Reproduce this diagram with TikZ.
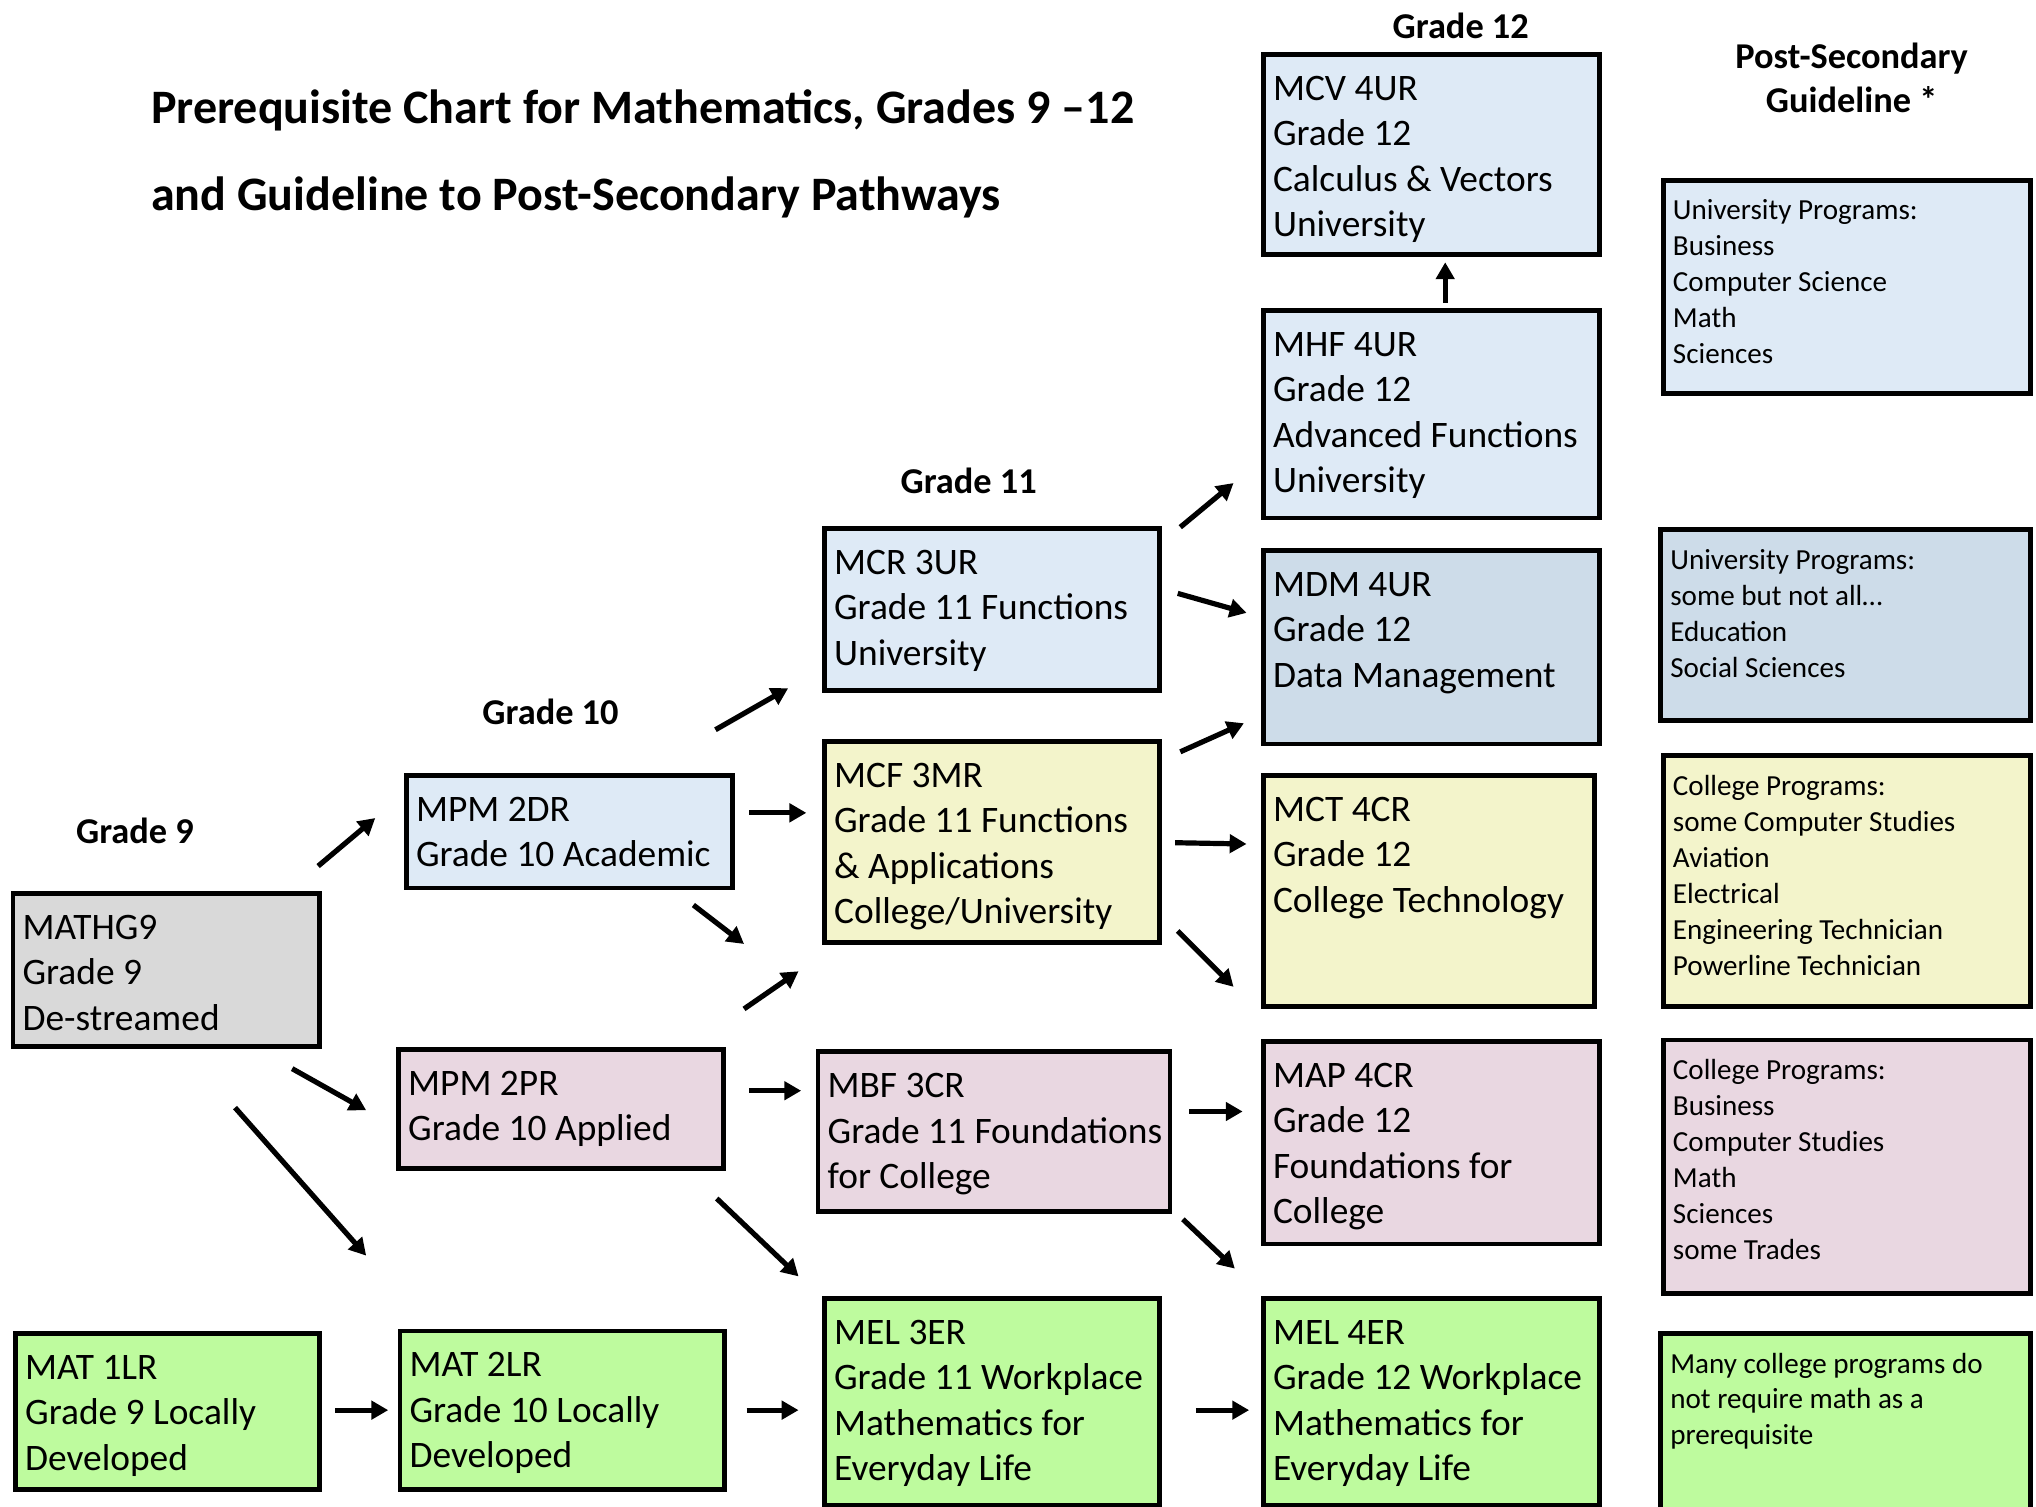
\documentclass[tikz,border=0pt]{standalone}
\usepackage{fontspec}
\setmainfont{Carlito}
\usetikzlibrary{arrows.meta,fit,calc}
\definecolor{blueL}{HTML}{DEEAF6}
\definecolor{blueD}{HTML}{CDDCE9}
\definecolor{yelL}{HTML}{F3F4CB}
\definecolor{pinkL}{HTML}{E9D7E1}
\definecolor{greenL}{HTML}{BEFB9E}
\definecolor{grayL}{HTML}{D9D9D9}
\newcommand\strA{\rule{0pt}{12pt}}
\newcommand\strB{\rule{0pt}{10pt}}
\tikzset{
 cbox/.style={draw=black, line width=1.8pt, inner sep=0pt, outer sep=0pt},
 ctext/.style={anchor=north west, inner sep=0pt, align=left, font=\fontsize{14.4}{17.5}\selectfont},
 ptext/.style={anchor=north west, inner sep=0pt, align=left, font=\fontsize{11.2}{13.85}\selectfont},
 glabel/.style={font=\bfseries\fontsize{14}{17}\selectfont, inner sep=0pt, align=center},
 tlabel/.style={font=\bfseries\fontsize{18.5}{21}\selectfont, inner sep=0pt, anchor=west},
 arr/.style={line width=2pt, -{Triangle[length=6.5pt,width=7pt]}},
}
\begin{document}
\begin{tikzpicture}[x=0.5pt,y=-0.5pt]
\useasboundingbox[fill=white] (0,0) rectangle (1568,1160);

% titles
\node[tlabel] (title1) at (116,85) {Prerequisite Chart for Mathematics, Grades 9 –12};
\node[tlabel] (title2) at (116,152) {and Guideline to Post-Secondary Pathways};
\node[glabel] (g12) at (1125,20) {Grade 12};
\node[glabel] (g11) at (746,370) {Grade 11};
\node[glabel] (g10) at (424,548) {Grade 10};
\node[glabel] (g9) at (104,640) {Grade 9};
\node[glabel] (psg) at (1426,60) {Post-Secondary\\Guideline *};

% boxes
\node[cbox, fill=blueL, fit={(973,42) (1232,196)}] (mcv) {};
\node[cbox, fill=blueL, fit={(973,239) (1232,399)}] (mhf) {};
\node[cbox, fill=blueD, fit={(973,424) (1232,573)}] (mdm) {};
\node[cbox, fill=yelL, fit={(973,597) (1228,775)}] (mct) {};
\node[cbox, fill=pinkL, fit={(973,802) (1232,958)}] (map) {};
\node[cbox, fill=greenL, fit={(973,1000) (1232,1159)}] (melf) {};
\node[cbox, fill=blueL, fit={(635,407) (893,532)}] (mcr) {};
\node[cbox, fill=yelL, fit={(635,571) (893,726)}] (mcf) {};
\node[cbox, fill=pinkL, fit={(630,810) (901,933)}] (mbf) {};
\node[cbox, fill=greenL, fit={(635,1000) (893,1159)}] (melt) {};
\node[cbox, fill=blueL, fit={(313,597) (564,684)}] (mpmd) {};
\node[cbox, fill=pinkL, fit={(307,808) (557,900)}] (mpmp) {};
\node[cbox, fill=greenL, fit={(308,1025) (558,1147)}] (mattwo) {};
\node[cbox, fill=greenL, fit={(12,1027) (246,1147)}] (matone) {};
\node[cbox, fill=grayL, fit={(10,688) (246,806)}] (gnine) {};
\node[cbox, fill=blueL, fit={(1281,139) (1564,303)}] (psa) {};
\node[cbox, fill=blueD, fit={(1279,408) (1564,555)}] (psb) {};
\node[cbox, fill=yelL, fit={(1281,582) (1564,775)}] (psc) {};
\node[cbox, fill=pinkL, fit={(1281,801) (1564,996)}] (psd) {};
\node[cbox, fill=greenL, fit={(1279,1027) (1564,1172)}] (pse) {};

% box texts
\node[ctext] (mcvT) at ([shift={(7,11)}]mcv.north west) {\strA MCV 4UR\\Grade 12\\Calculus \& Vectors\\University};
\node[ctext] (mhfT) at ([shift={(7,11)}]mhf.north west) {\strA MHF 4UR\\Grade 12\\Advanced Functions\\University};
\node[ctext] (mdmT) at ([shift={(7,11)}]mdm.north west) {\strA MDM 4UR\\Grade 12\\Data Management};
\node[ctext] (mctT) at ([shift={(7,11)}]mct.north west) {\strA MCT 4CR\\Grade 12\\College Technology};
\node[ctext] (mapT) at ([shift={(7,11)}]map.north west) {\strA MAP 4CR\\Grade 12\\Foundations for\\College};
\node[ctext] (melfT) at ([shift={(7,11)}]melf.north west) {\strA MEL 4ER\\Grade 12 Workplace\\Mathematics for\\Everyday Life};
\node[ctext] (mcrT) at ([shift={(7,11)}]mcr.north west) {\strA MCR 3UR\\Grade 11 Functions\\University};
\node[ctext] (mcfT) at ([shift={(7,11)}]mcf.north west) {\strA MCF 3MR\\Grade 11 Functions\\\& Applications\\College/University};
\node[ctext] (mbfT) at ([shift={(7,11)}]mbf.north west) {\strA MBF 3CR\\Grade 11 Foundations\\for College};
\node[ctext] (meltT) at ([shift={(7,11)}]melt.north west) {\strA MEL 3ER\\Grade 11 Workplace\\Mathematics for\\Everyday Life};
\node[ctext] (mpmdT) at ([shift={(7,11)}]mpmd.north west) {\strA MPM 2DR\\Grade 10 Academic};
\node[ctext] (mpmpT) at ([shift={(7,11)}]mpmp.north west) {\strA MPM 2PR\\Grade 10 Applied};
\node[ctext] (mattwoT) at ([shift={(7,11)}]mattwo.north west) {\strA MAT 2LR\\Grade 10 Locally\\Developed};
\node[ctext] (matoneT) at ([shift={(7,11)}]matone.north west) {\strA MAT 1LR\\Grade 9 Locally\\Developed};
\node[ctext] (gnineT) at ([shift={(7,11)}]gnine.north west) {\strA MATHG9\\Grade 9\\De-streamed};
\node[ptext] (psaT) at ([shift={(7,10)}]psa.north west) {\strB University Programs:\\Business\\Computer Science\\Math\\Sciences};
\node[ptext] (psbT) at ([shift={(7,10)}]psb.north west) {\strB University Programs:\\some but not all…\\Education\\Social Sciences};
\node[ptext] (pscT) at ([shift={(7,10)}]psc.north west) {\strB College Programs:\\some Computer Studies\\Aviation\\Electrical\\Engineering Technician\\Powerline Technician};
\node[ptext] (psdT) at ([shift={(7,10)}]psd.north west) {\strB College Programs:\\Business\\Computer Studies\\Math\\Sciences\\some Trades};
\node[ptext] (pseT) at ([shift={(7,10)}]pse.north west) {\strB Many college programs do\\not require math as a\\prerequisite};

% arrow end points
\coordinate (a1s) at (245,667);  \coordinate (a1e) at (289,630);
\coordinate (a2s) at (225,823);  \coordinate (a2e) at (282,855);
\coordinate (a3s) at (181,853);  \coordinate (a3e) at (282,967);
\coordinate (a4s) at (551,562);  \coordinate (a4e) at (607,530);
\coordinate (a5s) at (577,626);  \coordinate (a5e) at (621,626);
\coordinate (a6s) at (534,697);  \coordinate (a6e) at (573,727);
\coordinate (a7s) at (573,777);  \coordinate (a7e) at (615,748);
\coordinate (a8s) at (577,840);  \coordinate (a8e) at (617,840);
\coordinate (a9s) at (552,923);  \coordinate (a9e) at (615,983);
\coordinate (a10s) at (258,1086); \coordinate (a10e) at (299,1086);
\coordinate (a11s) at (575,1086); \coordinate (a11e) at (615,1086);
\coordinate (a12s) at (909,406); \coordinate (a12e) at (950,372);
\coordinate (a13s) at (907,457); \coordinate (a13e) at (960,472);
\coordinate (a14s) at (909,579); \coordinate (a14e) at (958,557);
\coordinate (a15s) at (905,649); \coordinate (a15e) at (960,650);
\coordinate (a16s) at (907,717); \coordinate (a16e) at (950,760);
\coordinate (a17s) at (916,856); \coordinate (a17e) at (957,856);
\coordinate (a18s) at (911,939); \coordinate (a18e) at (951,977);
\coordinate (a19s) at (921,1086); \coordinate (a19e) at (962,1086);
\coordinate (a20s) at (1113,233); \coordinate (a20e) at (1113,202);

\foreach \i in {1,...,20} { \draw[arr] (a\i s) -- (a\i e); }
\end{tikzpicture}
\end{document}
